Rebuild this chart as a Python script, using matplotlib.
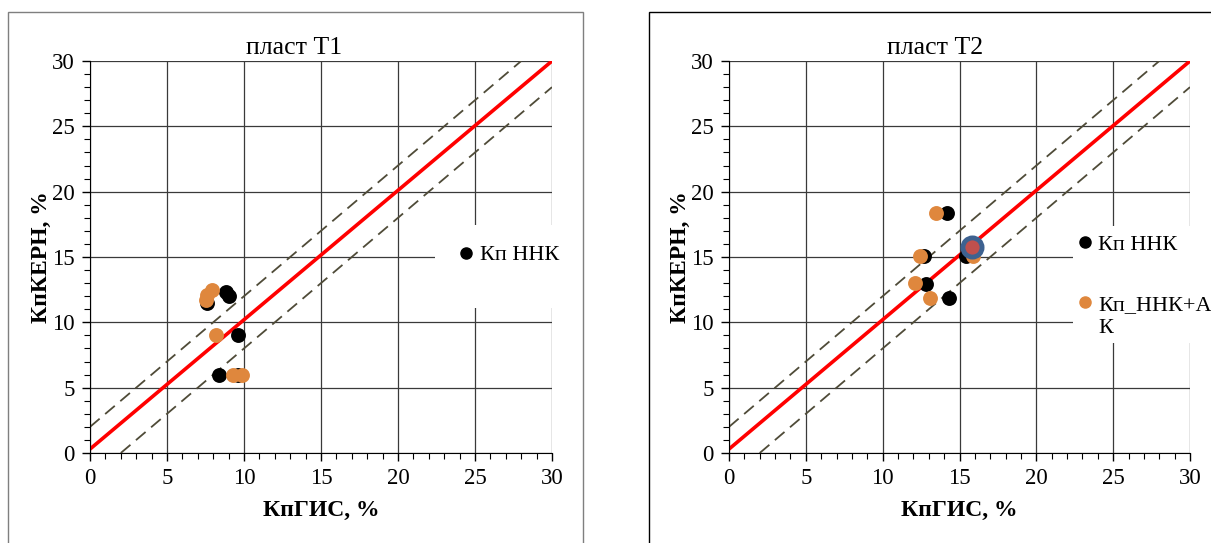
import matplotlib.pyplot as plt
from matplotlib.patches import Rectangle
from matplotlib.lines import Line2D
from matplotlib.ticker import MultipleLocator

plt.rcParams['font.family'] = ['Liberation Serif', 'DejaVu Serif']

# ------ ДАННЫЕ ------
# пласт Т1
t1_nnk_x = [8.4, 9.6, 9.6, 8.8, 9.0, 7.6]
t1_nnk_y = [6.0, 9.0, 6.0, 12.3, 12.0, 11.5]
t1_ak_x = [9.3, 9.9, 8.2, 7.5, 7.6, 7.9]
t1_ak_y = [6.0, 6.0, 9.0, 11.7, 12.1, 12.5]

# пласт Т2
t2_nnk_x = [14.2, 12.7, 12.8, 14.3, 15.4]
t2_nnk_y = [18.4, 15.1, 12.9, 11.9, 15.1]
t2_ak_x = [13.5, 12.4, 12.1, 13.1, 15.9]
t2_ak_y = [18.4, 15.1, 13.0, 11.9, 15.1]
t2_mark_x = [15.8]
t2_mark_y = [15.8]

# линия 1:1 и коридор +-2 %
line_x = [0, 30]
line_y = [0.3, 30]
corr_up_x, corr_up_y = [0, 28], [2, 30]
corr_dn_x, corr_dn_y = [2, 30], [0, 28]

black = '#000000'
orange = '#df873d'
W, H = 1211, 543

fig = plt.figure(figsize=(W / 100, H / 100), dpi=100)

# рамки вокруг диаграмм
fig.add_artist(Rectangle((8 / W, -0.05), (583 - 8) / W, 1.05 - 12 / H,
                         transform=fig.transFigure, fill=False,
                         edgecolor='#7f7f7f', lw=1.0))
fig.add_artist(Rectangle((649 / W, -0.05), 0.6, 1.05 - 12 / H,
                         transform=fig.transFigure, fill=False,
                         edgecolor='#000000', lw=1.0))


def px_ax(x0, x1):
    return [x0 / W, (543 - 453) / H, (x1 - x0) / W, (453 - 61) / H]


def setup(ax, title, title_x):
    ax.set_xlim(0, 30)
    ax.set_ylim(0, 30)
    ax.xaxis.set_major_locator(MultipleLocator(5))
    ax.yaxis.set_major_locator(MultipleLocator(5))
    ax.xaxis.set_minor_locator(MultipleLocator(1))
    ax.yaxis.set_minor_locator(MultipleLocator(1))
    ax.tick_params(which='major', direction='out', length=6, width=1,
                   labelsize=16.5, pad=5)
    ax.tick_params(which='minor', direction='out', length=4, width=0.8)
    ax.set_axisbelow(True)
    ax.grid(True, which='major', color='#3a3a3a', lw=0.9)
    ax.spines['top'].set_visible(False)
    ax.spines['right'].set_visible(False)
    ax.set_xlabel('КпГИС, %', fontsize=17, fontweight='bold', labelpad=8)
    ax.set_ylabel('КпКЕРН, %', fontsize=17, fontweight='bold', labelpad=0)
    ax.text(title_x, 1.005, title, transform=ax.transAxes, ha='center',
            va='bottom', fontsize=18.5)
    ax.plot(corr_up_x, corr_up_y, color='#4f4b38', lw=1.3, dashes=(7, 4))
    ax.plot(corr_dn_x, corr_dn_y, color='#4f4b38', lw=1.3, dashes=(7, 4))
    ax.plot(line_x, line_y, color='#ff0000', lw=2.6, solid_capstyle='butt')


ax1 = fig.add_axes(px_ax(90, 552))
setup(ax1, 'пласт Т1', (294 - 90) / 462)
ax1.scatter(t1_nnk_x, t1_nnk_y, s=115, color=black, zorder=3, linewidths=0)
ax1.scatter(t1_ak_x, t1_ak_y, s=115, color=orange, zorder=3, linewidths=0)
ax1.add_patch(Rectangle((0.747, 0.37), 0.33, 0.212, transform=ax1.transAxes,
                        facecolor='white', edgecolor='none', zorder=0.8,
                        clip_on=False))
h1 = [Line2D([], [], ls='none', marker='o', ms=8, color=black)]
ax1.legend(h1, ['Кп ННК'], loc='center left', bbox_to_anchor=(0.80, 0.505),
           frameon=False, fontsize=16, handlelength=0.6, handletextpad=0.3,
           borderpad=0, borderaxespad=0)

ax2 = fig.add_axes(px_ax(729, 1190))
setup(ax2, 'пласт Т2', (935 - 729) / 461)
ax2.scatter(t2_nnk_x, t2_nnk_y, s=115, color=black, zorder=3, linewidths=0)
ax2.scatter(t2_ak_x, t2_ak_y, s=115, color=orange, zorder=3, linewidths=0)
ax2.scatter(t2_mark_x, t2_mark_y, s=190, color='#c0504d', zorder=4,
            edgecolors='#3e6290', linewidths=3.5)
ax2.add_patch(Rectangle((0.746, 0.28), 0.4, 0.298, transform=ax2.transAxes,
                        facecolor='white', edgecolor='none', zorder=0.8,
                        clip_on=False))
h2 = [Line2D([], [], ls='none', marker='o', ms=8, color=black),
      Line2D([], [], ls='none', marker='o', ms=8, color=orange)]
leg2 = ax2.legend(h2, ['Кп ННК', 'Кп_ННК+А'], loc='upper left',
                  bbox_to_anchor=(0.757, 0.557), frameon=False, fontsize=16,
                  handlelength=0.6, handletextpad=0.3, borderpad=0,
                  borderaxespad=0, labelspacing=1.75)

# перенос подписи второй серии на новую строку
fig.canvas.draw()
bb = leg2.get_texts()[1].get_window_extent()
fig.text(bb.x0 / W, (bb.y0 - 4) / H, 'К', fontsize=16, ha='left', va='top')

fig.savefig('out.png', dpi=100)
